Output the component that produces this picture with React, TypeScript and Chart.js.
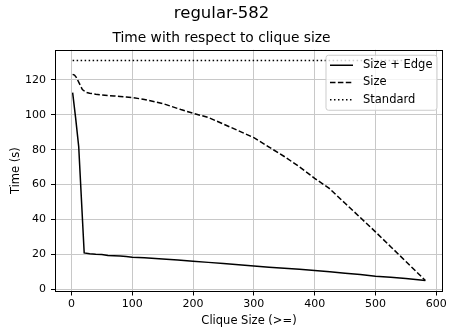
import React, { useEffect, useRef } from "react";
import { Chart, registerables } from "chart.js";

Chart.register(...registerables);

// ---- Data ----
const sizeEdgeX = [2, 7, 12, 21, 30, 40, 50, 60, 70, 80, 90, 100, 120, 150, 175, 200, 225, 250, 275, 300, 325, 350, 375, 400, 425, 450, 475, 500, 525, 550, 582];
const sizeEdgeY = [112.7, 98.0, 81.7, 20.8, 20.3, 20.0, 19.9, 19.4, 19.2, 19.0, 18.7, 18.4, 18.0, 17.3, 16.8, 16.1, 15.4, 14.7, 14.0, 13.3, 12.6, 12.0, 11.4, 10.7, 10.0, 9.2, 8.4, 7.5, 6.8, 6.2, 5.0];

const sizeX = [2, 5, 8, 13, 18, 24, 30, 40, 50, 60, 70, 80, 90, 100, 120, 150, 180, 200, 225, 250, 275, 300, 325, 350, 375, 400, 424, 450, 475, 500, 525, 550, 575, 582];
const sizeY = [123.2, 122.8, 121.5, 118.0, 114.5, 112.9, 112.4, 111.8, 111.4, 111.0, 110.8, 110.5, 110.2, 109.9, 108.8, 106.5, 103.0, 100.9, 98.5, 94.7, 90.8, 86.9, 81.5, 76.1, 70.2, 63.6, 57.8, 49.3, 41.1, 32.9, 24.4, 15.9, 7.4, 5.0];

const standardX = [2, 582];
const standardY = [131.1, 131.1];

const seriesLabels = ["Size + Edge", "Size", "Standard"];
const chartTitle = "regular-582";
const chartSubtitle = "Time with respect to clique size";
const xAxisLabel = "Clique Size (>=)";
const yAxisLabel = "Time (s)";

const FONT = "'DejaVu Sans', sans-serif";

const toPoints = (xs: number[], ys: number[]) => xs.map((x, i) => ({ x, y: ys[i] }));

const dashes: number[][] = [[], [5.5, 2.4], [1.5, 2.5]];

const framePlugin = {
  id: "frameAndLegend",
  afterDraw(chart: any) {
    const { ctx, chartArea } = chart;
    ctx.save();
    // axes frame
    ctx.strokeStyle = "#000";
    ctx.lineWidth = 1;
    ctx.setLineDash([]);
    const l = Math.round(chartArea.left) + 0.5;
    const t = Math.round(chartArea.top) + 0.5;
    const r = Math.round(chartArea.right) - 0.5;
    const b = Math.round(chartArea.bottom) - 0.5;
    ctx.strokeRect(l, t, r - l, b - t);

    // legend box (upper right, inside plot)
    const bw = 111;
    const bh = 55;
    const bx = chartArea.right - 6 - bw;
    const by = chartArea.top + 5.5;
    const rad = 2.5;
    ctx.beginPath();
    ctx.moveTo(bx + rad, by);
    ctx.lineTo(bx + bw - rad, by);
    ctx.quadraticCurveTo(bx + bw, by, bx + bw, by + rad);
    ctx.lineTo(bx + bw, by + bh - rad);
    ctx.quadraticCurveTo(bx + bw, by + bh, bx + bw - rad, by + bh);
    ctx.lineTo(bx + rad, by + bh);
    ctx.quadraticCurveTo(bx, by + bh, bx, by + bh - rad);
    ctx.lineTo(bx, by + rad);
    ctx.quadraticCurveTo(bx, by, bx + rad, by);
    ctx.closePath();
    ctx.fillStyle = "rgba(255,255,255,0.8)";
    ctx.fill();
    ctx.strokeStyle = "#cccccc";
    ctx.lineWidth = 1;
    ctx.stroke();

    ctx.font = `11.5px ${FONT}`;
    ctx.textBaseline = "middle";
    ctx.textAlign = "left";
    ctx.fillStyle = "#000";
    seriesLabels.forEach((lab, i) => {
      const yy = by + 10 + i * 17.2;
      ctx.beginPath();
      ctx.setLineDash(dashes[i]);
      ctx.strokeStyle = "#000";
      ctx.lineWidth = 1.5;
      ctx.moveTo(bx + 4, yy);
      ctx.lineTo(bx + 27, yy);
      ctx.stroke();
      ctx.setLineDash([]);
      ctx.fillText(lab, bx + 37, yy);
    });
    ctx.restore();
  },
};

export default function App() {
  const canvasRef = useRef<HTMLCanvasElement | null>(null);

  useEffect(() => {
    document.body.style.margin = "0";
    const canvas = canvasRef.current;
    if (!canvas) return;

    const makeDs = (label: string, xs: number[], ys: number[], dash: number[]) => ({
      label,
      data: toPoints(xs, ys),
      borderColor: "#000",
      backgroundColor: "#000",
      borderWidth: 1.5,
      borderDash: dash,
      pointRadius: 0,
      tension: 0,
      fill: false,
      showLine: true,
    });

    const chart = new Chart(canvas, {
      type: "line",
      data: {
        datasets: [
          makeDs(seriesLabels[0], sizeEdgeX, sizeEdgeY, dashes[0]),
          makeDs(seriesLabels[1], sizeX, sizeY, dashes[1]),
          makeDs(seriesLabels[2], standardX, standardY, dashes[2]),
        ],
      },
      options: {
        animation: false,
        responsive: false,
        devicePixelRatio: 1,
        events: [],
        layout: { padding: { left: 0, right: 6, top: 0, bottom: 0 } },
        plugins: {
          legend: { display: false },
          tooltip: { enabled: false },
          title: {
            display: true,
            text: chartTitle,
            color: "#000",
            font: { family: FONT, size: 16.5, weight: "normal", lineHeight: 1.2 },
            padding: { top: 4, bottom: 6.2 },
          },
          subtitle: {
            display: true,
            text: chartSubtitle,
            color: "#000",
            font: { family: FONT, size: 13.8, weight: "normal", lineHeight: 1.2 },
            padding: { top: 0, bottom: 3.2 },
          },
        },
        scales: {
          x: {
            type: "linear",
            min: -27,
            max: 611,
            afterFit: (s: any) => {
              s.height = 40.5;
            },
            ticks: {
              stepSize: 100,
              includeBounds: false,
              color: "#000",
              font: { family: FONT, size: 11 },
              padding: 2.1,
              maxRotation: 0,
            },
            grid: { color: "#c8c8c8", lineWidth: 1, tickColor: "#000", tickLength: 4, drawTicks: true },
            border: { display: false },
            title: {
              display: true,
              text: xAxisLabel,
              color: "#000",
              font: { family: FONT, size: 11.5 },
              padding: { top: 0, bottom: 3.6 },
            },
          },
          y: {
            type: "linear",
            min: -1.3,
            max: 137.3,
            afterFit: (s: any) => {
              s.width = 55;
            },
            ticks: {
              stepSize: 20,
              includeBounds: false,
              color: "#000",
              font: { family: FONT, size: 11 },
              padding: 5,
            },
            grid: { color: "#c8c8c8", lineWidth: 1, tickColor: "#000", tickLength: 4, drawTicks: true },
            border: { display: false },
            title: {
              display: true,
              text: yAxisLabel,
              color: "#000",
              font: { family: FONT, size: 11.5 },
              padding: { top: 9, bottom: 0 },
            },
          },
        },
      },
      plugins: [framePlugin],
    } as any);

    return () => chart.destroy();
  }, []);

  return (
    <div style={{ width: 449, height: 332, background: "#fff" }}>
      <canvas ref={canvasRef} width={449} height={332} style={{ display: "block" }} />
    </div>
  );
}
